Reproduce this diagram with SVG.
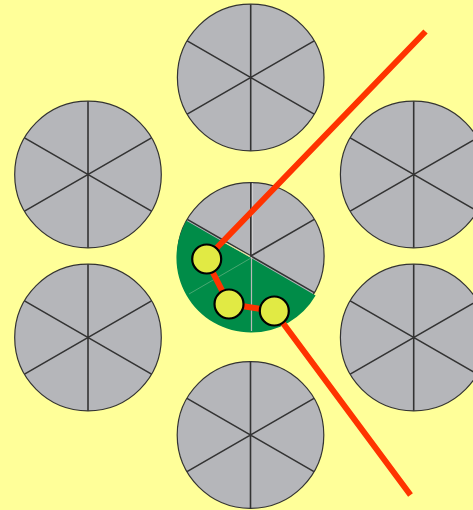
<svg xmlns="http://www.w3.org/2000/svg" xmlns:xlink="http://www.w3.org/1999/xlink" width="473" height="510" viewBox="0 0 473 510">
<style>
.disk{fill:#b5b6ba;stroke:#333;stroke-width:1.2}
.spoke{stroke:#333;stroke-width:1.6;fill:none}
.ball{fill:#e1ea44;stroke:#000;stroke-width:2.2}
.path{fill:none;stroke:#ff3300;stroke-width:6;stroke-linejoin:miter}
</style>
<defs>
<g id="wheel">
<circle class="disk" cx="0" cy="0" r="73.3"/>
<path class="spoke" d="M0,-73.3V73.3M-63.5,-36.6L63.5,36.6M-63.5,36.6L63.5,-36.6"/>
</g>
</defs>
<rect width="473" height="510" fill="#ffff99"/>
<g id="wheel-top"><use xlink:href="#wheel" x="250.7" y="77.5"/></g>
<g id="wheel-upper-left"><use xlink:href="#wheel" x="88" y="174.5"/></g>
<g id="wheel-upper-right"><use xlink:href="#wheel" x="413.7" y="174.5"/></g>
<g id="wheel-lower-left"><use xlink:href="#wheel" x="88" y="337.5"/></g>
<g id="wheel-lower-right"><use xlink:href="#wheel" x="413.7" y="337.5"/></g>
<g id="wheel-bottom"><use xlink:href="#wheel" x="250.5" y="435"/></g>
<g id="wheel-center">
<circle class="disk" cx="250.8" cy="256" r="73.3"/>
<path d="M252.6,183V256" stroke="#d8d8d8" stroke-width="0.8"/>
<path class="spoke" d="M250.8,256V182.7M250.8,256L187.3,219.4M250.8,256L314.3,219.4M250.8,256L314.3,292.6"/>
<path d="M251,258 L315.6,295.5 A74.5,74.5 0 0,1 251,332.5 A74.5,74.5 0 0,1 186.4,220.8 Z" fill="#008c48"/>
<path d="M251.5,257V331" stroke="#b8b8b8" stroke-width="1.2"/>
<path d="M251,258L189,294" stroke="#5cae7c" stroke-width="0.8"/>
<path d="M222,241L250,256.5" stroke="#e8e6a0" stroke-width="1.2"/>
</g>
<g id="connectors">
<polyline class="path" points="425.5,31.5 206,259 229,304 274,311 410.5,495"/>
</g>
<g id="ball-1"><circle class="ball" cx="206.7" cy="259" r="14.5"/></g>
<g id="ball-2"><circle class="ball" cx="229" cy="304" r="14.5"/></g>
<g id="ball-3"><circle class="ball" cx="274.3" cy="311" r="14.5"/></g>
</svg>
